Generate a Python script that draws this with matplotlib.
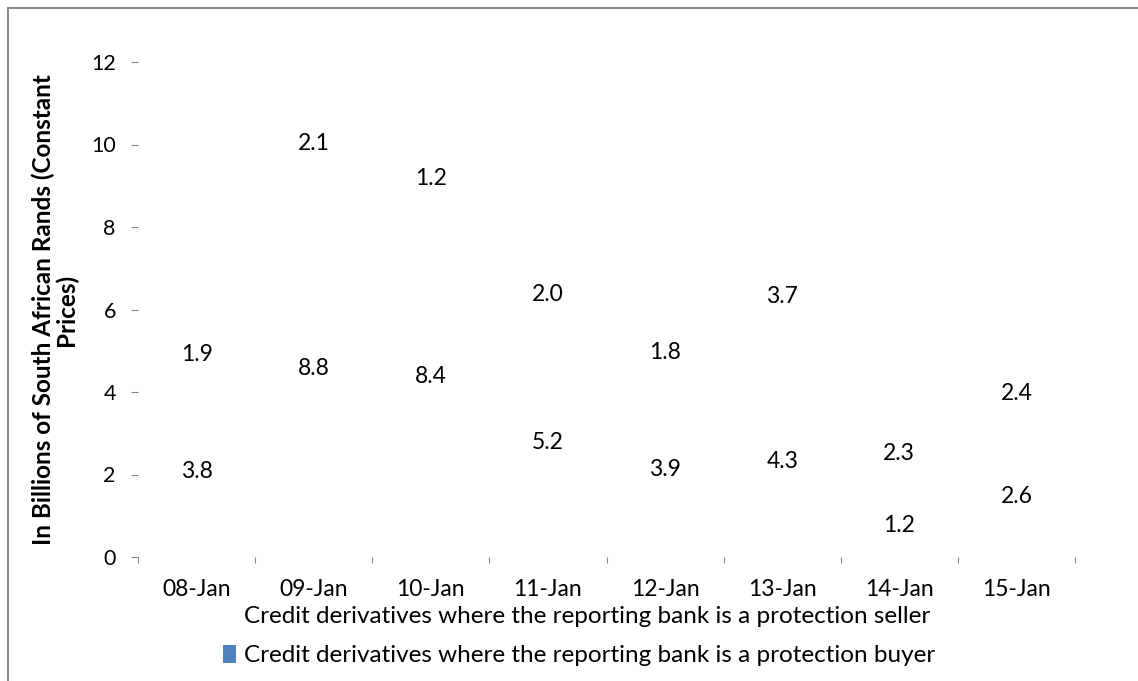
import numpy as np
import matplotlib
matplotlib.use("Agg")
import matplotlib.pyplot as plt
from matplotlib.patches import Patch, Rectangle

plt.rcParams['font.family'] = ['Lato', 'DejaVu Sans']

months = ["08-Jan", "09-Jan", "10-Jan", "11-Jan", "12-Jan", "13-Jan", "14-Jan", "15-Jan"]
seller = [3.8, 8.8, 8.4, 5.2, 3.9, 4.3, 1.2, 2.6]
buyer = [1.9, 2.1, 1.2, 2.0, 1.8, 3.7, 2.3, 2.4]
seller_name = "Credit derivatives where the reporting bank is a protection seller"
buyer_name = "Credit derivatives where the reporting bank is a protection buyer"

W, H = 1138, 681
fig = plt.figure(figsize=(W / 100, H / 100), dpi=100)
ax = fig.add_axes([138 / W, 1 - 557 / H, (1075 - 138) / W, (557 - 62) / H])

x = np.arange(len(months))
tick_grey = "#868686"

# stacked bars, drawn without fill so only their labels show
b1 = ax.bar(x, seller, width=0.5, color="none", edgecolor="none")
b2 = ax.bar(x, buyer, width=0.5, bottom=seller, color="none", edgecolor="none")

for xi, s, b in zip(x, seller, buyer):
    ax.annotate(f"{s:.1f}", (xi, s / 2), xytext=(0, 5), textcoords="offset points",
                ha="center", va="center", fontsize=16.5)
    ax.annotate(f"{b:.1f}", (xi, s + b / 2), xytext=(0, 5), textcoords="offset points",
                ha="center", va="center", fontsize=16.5)

ax.set_xlim(-0.5, len(months) - 0.5)
ax.set_ylim(0, 12)
for sp in ax.spines.values():
    sp.set_visible(False)

ax.set_yticks(np.arange(0, 13, 2))
ax.tick_params(axis="y", length=5, width=0.8, color=tick_grey, pad=11, labelsize=15.5)

ax.set_xticks(x)
ax.set_xticklabels(months)
ax.set_xticks(np.arange(-0.5, len(months)), minor=True)
ax.tick_params(axis="x", which="major", length=0, pad=16, labelsize=16.5)
ax.tick_params(axis="x", which="minor", length=4, width=0.8, color=tick_grey)

fig.text(55 / W, 1 - 310 / H, "In Billions of South African Rands (Constant\nPrices)",
         rotation=90, ha="center", va="center", fontsize=17.5, fontweight="bold",
         multialignment="center", linespacing=1.0)

handles = [Patch(facecolor="white", edgecolor="none"),
           Patch(facecolor="#4F81BD", edgecolor="none")]
fig.legend(handles, [seller_name, buyer_name], loc="center",
           bbox_to_anchor=(579 / W, 1 - 636 / H), frameon=False, fontsize=17.5,
           handlelength=0.55, handleheight=0.8, handletextpad=0.3, labelspacing=0.7)

# outer chart-area border
fig.patches.append(Rectangle((8 / W, -0.1), 1.2, 1 - 8 / H + 0.1, transform=fig.transFigure,
                             fill=False, edgecolor="#8C8C8C", linewidth=1.5))

fig.savefig("out.png", dpi=100)
